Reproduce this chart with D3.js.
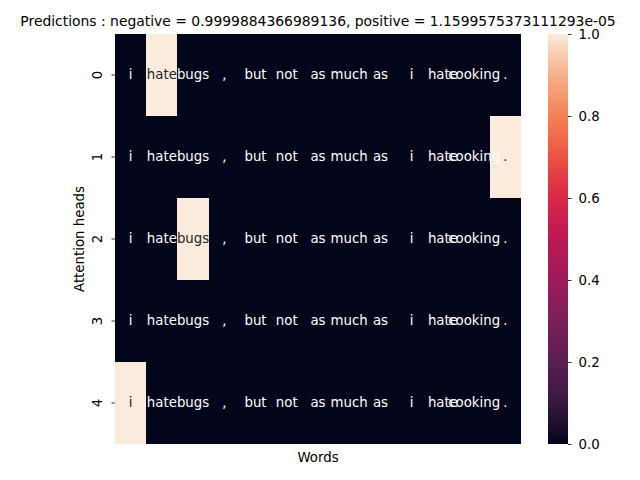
<!DOCTYPE html>
<html>
<head>
<meta charset="utf-8">
<script src="https://cdn.jsdelivr.net/npm/d3@7"></script>
<style>
  body { margin: 0; background: #fff; }
  text { font-family: "DejaVu Sans", sans-serif; }
</style>
</head>
<body>
<svg id="chart" width="640" height="480"></svg>
<script>
// ---- data ----
const words = ["i", "hate", "bugs", ",", "but", "not", "as", "much", "as", "i", "hate", "cooking", "."];
const heads = ["0", "1", "2", "3", "4"];
const head0 = [0, 1, 0, 0, 0, 0, 0, 0, 0, 0, 0, 0, 0];
const head1 = [0, 0, 0, 0, 0, 0, 0, 0, 0, 0, 0, 0, 1];
const head2 = [0, 0, 1, 0, 0, 0, 0, 0, 0, 0, 0, 0, 0];
const head3 = [0, 0, 0, 0, 0, 0, 0, 0, 0, 0, 0, 0, 0];
const head4 = [1, 0, 0, 0, 0, 0, 0, 0, 0, 0, 0, 0, 0];
const colorbarTicks = [0.0, 0.2, 0.4, 0.6, 0.8, 1.0];
const titleText = "Predictions : negative = 0.9999884366989136, positive = 1.1599575373111293e-05";

const matrix = [head0, head1, head2, head3, head4];

// ---- layout ----
const svg = d3.select("#chart");
const plot = { left: 115, right: 521, top: 34, bottom: 444 };
const cbar = { left: 548, right: 568 };

// rocket colormap approximation
const rocketStops = ["#03051a", "#35193e", "#541e4e", "#711f57", "#8f1f5a", "#ad1759",
  "#ca1a50", "#e13342", "#f06043", "#f48a5a", "#f6b48e", "#faebdd"];
const rocketInterp = d3.interpolateRgbBasis(rocketStops);
const color = d3.scaleSequential(rocketInterp).domain([0, 1]);

const x = d3.scaleBand().domain(d3.range(words.length)).range([plot.left, plot.right]).padding(0);
const y = d3.scaleBand().domain(heads).range([plot.top, plot.bottom]).padding(0);

const cells = [];
matrix.forEach((row, r) => row.forEach((v, c) => cells.push({ r, c, v })));

// cells
svg.append("g").attr("shape-rendering", "crispEdges").selectAll("rect").data(cells).join("rect")
  .attr("x", d => Math.round(x(d.c)))
  .attr("y", d => Math.round(y(heads[d.r])))
  .attr("width", d => Math.round(x(d.c) + x.bandwidth()) - Math.round(x(d.c)))
  .attr("height", d => Math.round(y(heads[d.r]) + y.bandwidth()) - Math.round(y(heads[d.r])))
  .attr("fill", d => color(d.v));

// annotations
function lum(c) {
  const rgb = d3.rgb(c);
  const f = v => { v /= 255; return v <= 0.03928 ? v / 12.92 : Math.pow((v + 0.055) / 1.055, 2.4); };
  return 0.2126 * f(rgb.r) + 0.7152 * f(rgb.g) + 0.0722 * f(rgb.b);
}
svg.append("g").selectAll("text").data(cells).join("text")
  .attr("x", d => x(d.c) + x.bandwidth() / 2)
  .attr("y", d => y(heads[d.r]) + y.bandwidth() / 2)
  .attr("dy", "0.3em")
  .attr("text-anchor", "middle")
  .attr("font-size", "13.33px")
  .attr("fill", d => lum(color(d.v)) > 0.408 ? "#262626" : "#ffffff")
  .text(d => words[d.c]);

// y axis
const yAxis = d3.axisLeft(y).tickSize(3.5).tickPadding(0);
const gy = svg.append("g").attr("transform", `translate(${plot.left},0)`).call(yAxis);
gy.select(".domain").remove();
gy.selectAll(".tick line").attr("stroke", "#000").attr("stroke-width", 0.8);
gy.selectAll(".tick text")
  .attr("font-size", "13.33px")
  .attr("fill", "#000")
  .attr("x", null).attr("dy", null)
  .attr("text-anchor", "middle")
  .attr("transform", `translate(${102 - plot.left},0) rotate(-90)`);

// colorbar
const defs = svg.append("defs");
const grad = defs.append("linearGradient").attr("id", "cbgrad")
  .attr("x1", "0").attr("y1", "1").attr("x2", "0").attr("y2", "0");
d3.range(0, 1.0001, 0.02).forEach(t => {
  grad.append("stop").attr("offset", t).attr("stop-color", color(t));
});
const cy = d3.scaleLinear().domain([0, 1]).range([plot.bottom, plot.top]);
svg.append("rect")
  .attr("x", cbar.left).attr("y", cy(1))
  .attr("width", cbar.right - cbar.left).attr("height", cy(0) - cy(1))
  .attr("fill", "url(#cbgrad)");
const cAxis = d3.axisRight(cy).tickValues(colorbarTicks).tickFormat(d3.format(".1f")).tickSize(3.5).tickPadding(7);
const gc = svg.append("g").attr("transform", `translate(${cbar.right},0)`).call(cAxis);
gc.select(".domain").remove();
gc.selectAll(".tick line").attr("stroke", "#000").attr("stroke-width", 0.8);
gc.selectAll(".tick text").attr("font-size", "13.33px").attr("fill", "#000");

// axis labels
svg.append("text")
  .attr("x", (plot.left + plot.right) / 2).attr("y", 462)
  .attr("text-anchor", "middle").attr("font-size", "13.33px").attr("fill", "#000")
  .text("Words");
svg.append("text")
  .attr("transform", `translate(84,${(plot.top + plot.bottom) / 2}) rotate(-90)`)
  .attr("text-anchor", "middle").attr("font-size", "13.33px").attr("fill", "#000")
  .text("Attention heads");

// title
const title = svg.append("text")
  .attr("x", (plot.left + plot.right) / 2).attr("y", 26)
  .attr("text-anchor", "middle").attr("font-size", "13.33px").attr("fill", "#000")
  .text(titleText);
const tl = title.node().getComputedTextLength();
if (tl > 0) {
  const fs = 13.33 * 596 / tl;
  title.attr("font-size", Math.min(fs, 16) + "px");
}
</script>
</body>
</html>
